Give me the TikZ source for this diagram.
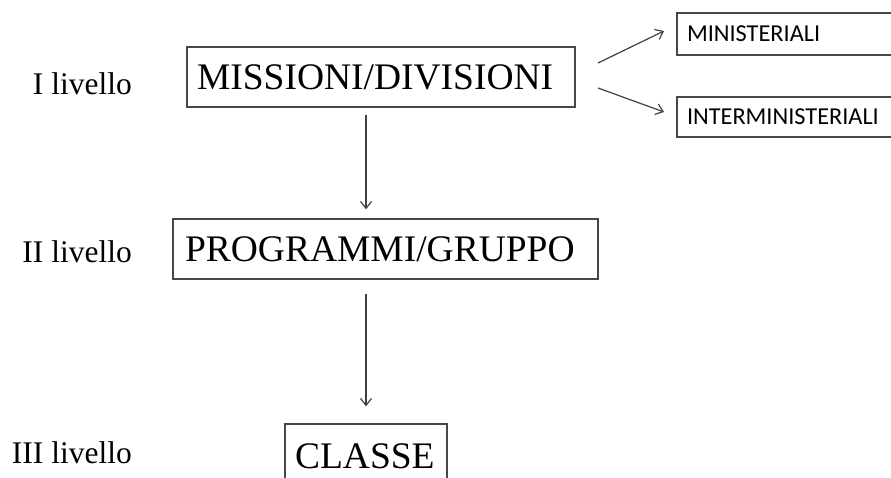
\documentclass[tikz,border=0pt]{standalone}
\usepackage{fontspec}
\setmainfont{Liberation Serif}
\newfontfamily\boxsans{Carlito}
\usetikzlibrary{arrows.meta}
\begin{document}
\begin{tikzpicture}[x=1pt,y=-1pt,
  lvl/.style={anchor=base east, inner sep=0pt, font=\fontsize{31.5}{36}\selectfont},
  bigbox/.style={draw=black!72, line width=1.3pt, inner xsep=10pt, inner ysep=0pt,
    align=left, text height=25pt, text depth=0pt, minimum height=60pt,
    font=\fontsize{37.5}{42}\selectfont},
  subbox/.style={draw=black!72, line width=1.1pt, inner xsep=10pt, inner ysep=0pt,
    align=left, text height=15.6pt, text depth=0pt, text width=210pt,
    font=\boxsans\fontsize{24.3}{28}\selectfont},
  arr/.style={draw=black!75, line width=1.2pt, -{Straight Barb[length=7pt,width=11pt]}}
]
\path[use as bounding box, clip] (0,0) rectangle (891,477);

% level labels
\node[lvl] (l1) at (132,94) {I livello};
\node[lvl] (l2) at (132,262.5) {II livello};
\node[lvl] (l3) at (132,463) {III livello};

% main hierarchy
\node[bigbox, text width=368pt] (miss) at (381,77) {MISSIONI/DIVISIONI};
\node[bigbox, inner xsep=12pt, text width=401pt] (prog) at (385.5,249) {PROGRAMMI/GRUPPO};
\node[bigbox, text width=142pt, minimum height=63pt] (classe) at (366,455.5) {CLASSE};

% subdivisions of the first level
\node[subbox, minimum height=42pt] (mini) at (792,34) {MINISTERIALI};
\node[subbox, minimum height=40pt] (inter) at (792,117) {INTERMINISTERIALI};

% connectors
\draw[arr, shorten <=7pt, shorten >=9pt] (classe.north |- miss.south) -- (classe.north |- prog.north);
\draw[arr, shorten <=14pt, shorten >=17pt] (classe.north |- prog.south) -- (classe.north);

\coordinate (d1s) at (598,63);
\coordinate (d1e) at (664,31);
\coordinate (d2s) at (598,88);
\coordinate (d2e) at (664,112);
\draw[arr] (d1s) -- (d1e);
\draw[arr] (d2s) -- (d2e);
\end{tikzpicture}
\end{document}
